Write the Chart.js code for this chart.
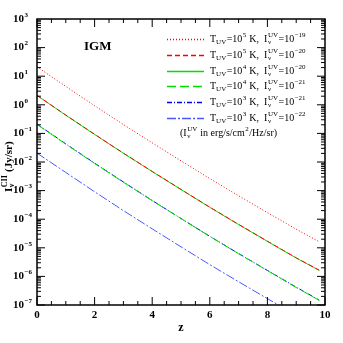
<!DOCTYPE html>
<html>
<head>
<meta charset="utf-8">
<script src="https://cdn.jsdelivr.net/npm/chart.js@4.4.1/dist/chart.umd.min.js"></script>
<style>
  html, body { margin: 0; padding: 0; background: #fff; }
  #wrap { width: 343px; height: 343px; }
</style>
</head>
<body>
<div id="wrap"><canvas id="chart" width="343" height="343"></canvas></div>
<script>
// redshift samples
const zVals = [0, 1, 2, 3, 4, 5, 6, 7, 8, 9, 9.8];

// I_nu^CII (Jy/sr)
const s1 = [21.4, 4.37, 0.93, 0.204, 0.0468, 0.011, 2.63e-3, 6.6e-4, 1.7e-4, 4.47e-5, 1.62e-5];
const s2 = [2.14, 0.437, 0.093, 0.0204, 4.68e-3, 1.1e-3, 2.63e-4, 6.6e-5, 1.7e-5, 4.47e-6, 1.65e-6];
const s3 = [2.12, 0.433, 0.092, 0.0202, 4.64e-3, 1.09e-3, 2.6e-4, 6.5e-5, 1.68e-5, 4.4e-6, 1.62e-6];
const s4 = [0.205, 0.042, 8.9e-3, 1.95e-3, 4.45e-4, 1.05e-4, 2.5e-5, 6.2e-6, 1.6e-6, 4.1e-7, 1.45e-7];
const s5 = [0.21, 0.043, 9.1e-3, 2.0e-3, 4.5e-4, 1.06e-4, 2.52e-5, 6.3e-6, 1.62e-6, 4.2e-7, 1.48e-7];
const s6 = [0.0205, 4.3e-3, 9.1e-4, 2.0e-4, 4.6e-5, 1.08e-5, 2.58e-6, 6.5e-7, 1.67e-7, 4.4e-8, 1.6e-8];

// legend entries: T exponent and I exponent per row
const legendT = ['5', '5', '4', '4', '3', '3'];
const legendI = ['\u221219', '\u221220', '\u221220', '\u221221', '\u221221', '\u221222'];

const yTickExp = [-7, -6, -5, -4, -3, -2, -1, 0, 1, 2, 3];
const xTicks = [0, 2, 4, 6, 8, 10];

const SERIF = "'Liberation Serif', 'DejaVu Serif', serif";

const styles = [
    { color: '#ff0000', dash: [1, 2] },
    { color: '#ff0000', dash: [5, 3] },
    { color: '#00e000', dash: [] },
    { color: '#00e000', dash: [9, 4] },
    { color: '#0000ff', dash: [5, 2, 1, 2] },
    { color: '#4858ff', dash: [9, 2, 2, 2] }
];

const series = [s1, s2, s3, s4, s5, s6];

const datasets = series.map((s, i) => ({
    data: s.map((v, j) => ({ x: zVals[j], y: v })),
    borderColor: styles[i].color,
    borderDash: styles[i].dash,
    borderWidth: 1,
    pointRadius: 0,
    fill: false,
    tension: 0
}));

// draws a run of [text, kind] pieces; kind: n, sub, sup, both (sup+sub stacked)
function drawRich(ctx, x, y, parts, size, weight) {
    const small = Math.round(size * 0.7);
    const w = weight || '';
    parts.forEach(p => {
        const [t, kind, t2] = p;
        if (kind === 'n') {
            ctx.font = `${w} ${size}px ${SERIF}`;
            ctx.fillText(t, x, y);
            x += ctx.measureText(t).width;
        } else if (kind === 'sup') {
            ctx.font = `${w} ${small}px ${SERIF}`;
            ctx.fillText(t, x + 0.5, y - size * 0.38);
            x += ctx.measureText(t).width + 1;
        } else if (kind === 'sub') {
            ctx.font = `${w} ${small}px ${SERIF}`;
            ctx.fillText(t, x, y + size * 0.28);
            x += ctx.measureText(t).width + 0.5;
        } else if (kind === 'both') {
            ctx.font = `${w} ${small}px ${SERIF}`;
            ctx.fillText(t, x + 0.5, y - size * 0.38);
            ctx.fillText(t2, x + 0.5, y + size * 0.28);
            x += Math.max(ctx.measureText(t).width, ctx.measureText(t2).width) + 1;
        }
    });
    return x;
}

const decorPlugin = {
    id: 'decor',
    afterDraw(chart) {
        const ctx = chart.ctx;
        const a = chart.chartArea;
        const xs = chart.scales.x;
        const ys = chart.scales.y;
        ctx.save();
        ctx.strokeStyle = '#000';
        ctx.fillStyle = '#000';

        // frame
        ctx.lineWidth = 1.5;
        ctx.strokeRect(a.left, a.top, a.right - a.left, a.bottom - a.top);

        // x ticks, inward on bottom and top
        ctx.lineWidth = 1;
        ctx.beginPath();
        for (let z = 0; z <= 10.001; z += 0.5) {
            const px = xs.getPixelForValue(z);
            const len = Math.abs(z % 2) < 0.01 ? 8 : 4;
            ctx.moveTo(px, a.bottom); ctx.lineTo(px, a.bottom - len);
            ctx.moveTo(px, a.top); ctx.lineTo(px, a.top + len);
        }
        // y ticks, inward on left and right
        for (let e = -7; e <= 2; e++) {
            for (let m = 1; m <= 9; m++) {
                const py = ys.getPixelForValue(m * Math.pow(10, e));
                const len = m === 1 ? 8 : 4;
                ctx.moveTo(a.left, py); ctx.lineTo(a.left + len, py);
                ctx.moveTo(a.right, py); ctx.lineTo(a.right - len, py);
            }
        }
        ctx.stroke();

        // y tick labels 10^n
        ctx.textBaseline = 'middle';
        ctx.textAlign = 'left';
        yTickExp.forEach(e => {
            const py = ys.getPixelForValue(Math.pow(10, e));
            ctx.font = `bold 11px ${SERIF}`;
            ctx.fillText('10', 13, py);
            const w = ctx.measureText('10').width;
            ctx.font = `bold 7px ${SERIF}`;
            ctx.fillText(e < 0 ? '\u2212' + (-e) : String(e), 13 + w + 0.5, py - 4);
        });

        // y axis title, rotated
        ctx.save();
        ctx.translate(9, 192);
        ctx.rotate(-Math.PI / 2);
        ctx.textBaseline = 'middle';
        drawRich(ctx, 0, 0, [['I', 'n'], ['CII', 'both', '\u03bd'], [' (Jy/sr)', 'n']], 11, 'bold');
        ctx.restore();

        // IGM label
        ctx.font = `bold 13px ${SERIF}`;
        ctx.textBaseline = 'middle';
        ctx.fillText('IGM', 84, 47);

        // legend
        const rowY = [39, 55, 71, 86, 102, 118];
        rowY.forEach((y, i) => {
            ctx.save();
            ctx.strokeStyle = styles[i].color;
            ctx.setLineDash(styles[i].dash);
            ctx.lineWidth = 1.3;
            ctx.beginPath();
            ctx.moveTo(167, y + 0.5); ctx.lineTo(204, y + 0.5);
            ctx.stroke();
            ctx.restore();
            ctx.fillStyle = '#000';
            drawRich(ctx, 210, y, [
                ['T', 'n'], ['UV', 'sub'], ['=10', 'n'], [legendT[i], 'sup'],
                [' K,  I', 'n'], ['UV', 'both', '\u03bd'], ['=10', 'n'], [legendI[i], 'sup']
            ], 10);
        });
        drawRich(ctx, 180, 133, [
            ['(I', 'n'], ['UV', 'both', '\u03bd'], [' in erg/s/cm', 'n'], ['2', 'sup'], ['/Hz/sr)', 'n']
        ], 10);

        ctx.restore();
    }
};

new Chart(document.getElementById('chart'), {
    type: 'line',
    data: { datasets },
    options: {
        responsive: false,
        animation: false,
        layout: { padding: { top: 19, right: 18, left: 0, bottom: 0 } },
        plugins: { legend: { display: false }, tooltip: { enabled: false } },
        scales: {
            x: {
                type: 'linear',
                min: 0, max: 10,
                afterBuildTicks: s => { s.ticks = xTicks.map(v => ({ value: v })); },
                afterFit: s => { s.height = 38; },
                ticks: {
                    color: '#000', padding: 4,
                    font: { family: SERIF, size: 11, weight: 'bold' },
                    maxRotation: 0
                },
                grid: { display: false, drawTicks: false },
                border: { display: false },
                title: {
                    display: true, text: 'z', color: '#000',
                    font: { family: SERIF, size: 12, weight: 'bold' },
                    padding: { top: 0, bottom: 8 }
                }
            },
            y: {
                type: 'logarithmic',
                min: 1e-7, max: 1e3,
                afterBuildTicks: s => { s.ticks = yTickExp.map(e => ({ value: Math.pow(10, e) })); },
                afterFit: s => { s.width = 37; },
                ticks: { display: false },
                grid: { display: false, drawTicks: false },
                border: { display: false }
            }
        }
    },
    plugins: [decorPlugin]
});
</script>
</body>
</html>
